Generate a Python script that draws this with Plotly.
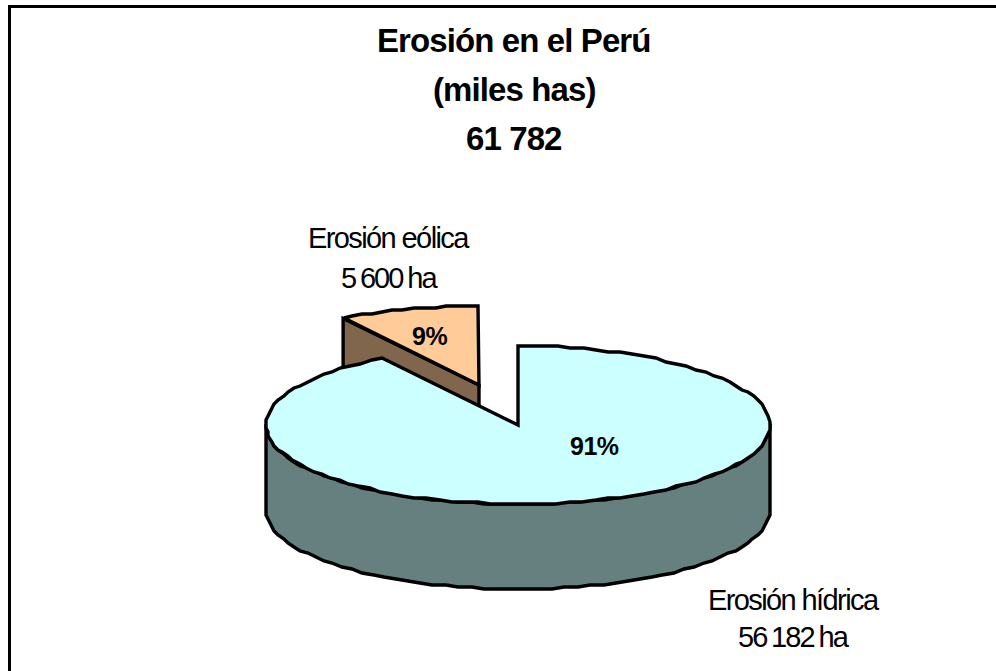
import numpy as np
import plotly.graph_objects as go

categories = ["Erosión hídrica", "Erosión eólica"]
values = [56182, 5600]
value_labels = ["56 182 ha", "5 600 ha"]
percent_labels = ["91%", "9%"]
title_lines = ["Erosión en el Perú", "(miles has)", "61 782"]
top_colors = ["#CCFFFF", "#FFCC99"]
side_colors = ["#668080", "#80664D"]

CX, CY, RX, RY, DEPTH = 518, 425, 252, 79, 85
EXPLODE = (-39, -40)
LW = 3.4

total = sum(values)
split = 360 * values[0] / total


def ell(theta, cx, cy):
    t = np.radians(theta)
    return cx + RX * np.sin(t), cy - RY * np.cos(t)


def arc(a, b, cx, cy, n=40):
    x, y = ell(np.linspace(a, b, n), cx, cy)
    # the reference outline is a slightly stepped polyline
    return np.round(x / 2) * 2, np.round(y / 2) * 2


def poly(fig, x, y, color):
    x, y = list(x), list(y)
    fig.add_trace(go.Scatter(x=x + x[:2], y=y + y[:2], mode="lines", fill="toself",
                             fillcolor=color, line=dict(color="black", width=LW, simplify=False),
                             hoverinfo="skip", showlegend=False))


fig = go.Figure()

# exploded slice
sx, sy = CX + EXPLODE[0], CY + EXPLODE[1]
ax, ay = arc(split, 360, sx, sy, 14)
lx, ly = ell(split, sx, sy)
poly(fig, [lx, sx, sx, lx], [ly, sy, sy + DEPTH, ly + DEPTH], side_colors[1])
poly(fig, np.r_[sx, ax], np.r_[sy, ay], top_colors[1])

# main slice
ax, ay = arc(90, 270, CX, CY, 60)
poly(fig, np.r_[ax, ax[::-1]], np.r_[ay, ay[::-1] + DEPTH], side_colors[0])
ax, ay = arc(0, split, CX, CY, 110)
poly(fig, np.r_[CX, ax], np.r_[CY, ay], top_colors[0])

BF = "Liberation Sans"
for line, y in zip(title_lines, [40, 89, 138]):
    fig.add_annotation(x=514, y=y, text=f'<b><span style="letter-spacing:-0.9px">{line}</span></b>',
                       showarrow=False, xanchor="center", yanchor="middle",
                       font=dict(family=BF, size=33, color="black"))

for lab, x, y in [(categories[1], 389, 238), (categories[0], 794, 600)]:
    fig.add_annotation(x=x, y=y, text=f'<span style="letter-spacing:-1.6px">{lab}</span>', showarrow=False,
                       xanchor="center", yanchor="middle", font=dict(family=BF, size=29, color="black"))
for lab, x, y in [(value_labels[1], 389, 278), (value_labels[0], 794, 637)]:
    fig.add_annotation(x=x, y=y, text=f'<span style="letter-spacing:-1.9px;word-spacing:-1.5px">{lab}</span>',
                       showarrow=False, xanchor="center", yanchor="middle",
                       font=dict(family=BF, size=29, color="black"))

for lab, x, y in [(percent_labels[0], 594, 446), (percent_labels[1], 429, 336)]:
    fig.add_annotation(x=x, y=y, text=f'<b><span style="letter-spacing:-0.5px">{lab}</span></b>', showarrow=False,
                       xanchor="center", yanchor="middle", font=dict(family=BF, size=25, color="black"))

# chart frame: only its top and left edges fall inside the picture
fig.add_shape(type="rect", x0=9.5, y0=6.5, x1=1100, y1=800, line=dict(color="black", width=3), layer="above")

fig.update_layout(width=996, height=671, margin=dict(l=0, r=0, t=0, b=0), paper_bgcolor="white",
                  plot_bgcolor="white", showlegend=False,
                  xaxis=dict(range=[0, 996], visible=False, fixedrange=True),
                  yaxis=dict(range=[671, 0], visible=False, fixedrange=True))
fig.write_html("out.html", config=dict(displayModeBar=False),
               post_script="document.body.style.margin='0';document.body.style.overflow='hidden';")
